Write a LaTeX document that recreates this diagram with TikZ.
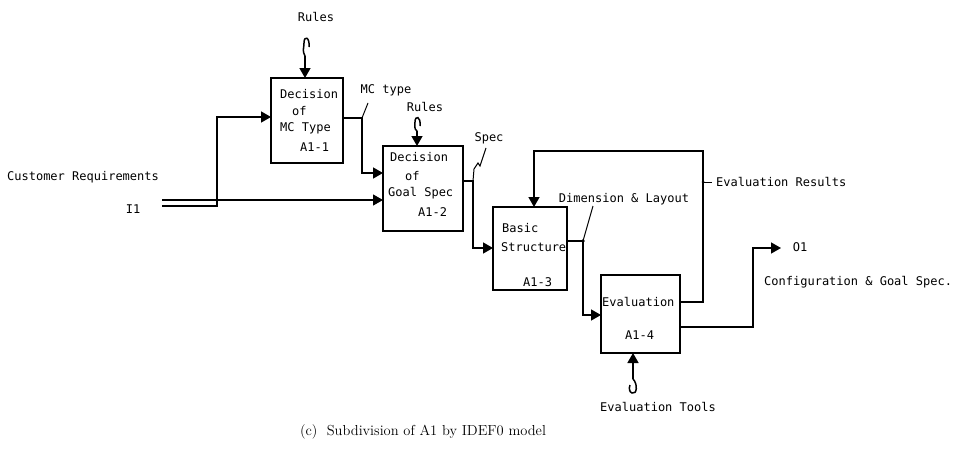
\documentclass[tikz,border=0pt]{standalone}
\usepackage{fontspec}
\newfontfamily\monof{DejaVu Sans Mono}
\usetikzlibrary{arrows.meta,calc}
\begin{document}
\begin{tikzpicture}[x=1pt,y=-1pt,
  box/.style={draw,line width=1.5pt,inner sep=0pt,outer sep=0pt},
  lbl/.style={font=\monof\fontsize{12}{14}\selectfont,inner sep=0pt},
  flow/.style={line width=1.5pt},
  arr/.style={flow,-{Triangle[length=10pt,width=11pt]}},
  captext/.style={font=\fontsize{14.5}{17}\selectfont,inner sep=0pt}]
\useasboundingbox (0,0) rectangle (955,455);

% boxes
\node[box,minimum width=72pt,minimum height=85pt] (b1) at (307,120.5) {};
\node[box,minimum width=80pt,minimum height=85pt] (b2) at (423,188.5) {};
\node[box,minimum width=74pt,minimum height=83pt] (b3) at (530,248.5) {};
\node[box,minimum width=79pt,minimum height=78pt] (b4) at (640.5,314) {};

% box texts
\node[lbl,anchor=west] (t1a) at (280,94) {Decision};
\node[lbl,anchor=west] (t1b) at (292,111) {of};
\node[lbl,anchor=west] (t1c) at (280,128) {MC Type};
\node[lbl,anchor=west] (t1d) at (300,147) {A1-1};

\node[lbl,anchor=west] (t2a) at (390,157) {Decision};
\node[lbl,anchor=west] (t2b) at (405,176) {of};
\node[lbl,anchor=west] (t2c) at (388,193) {Goal Spec};
\node[lbl,anchor=west] (t2d) at (418,212) {A1-2};

\node[lbl,anchor=west] (t3a) at (502,228) {Basic};
\node[lbl,anchor=west] (t3b) at (501,247) {Structure};
\node[lbl,anchor=west] (t3c) at (523,282) {A1-3};

\node[lbl,anchor=west] (t4a) at (602,302) {Evaluation};
\node[lbl,anchor=west] (t4b) at (625,335) {A1-4};

% outside labels
\node[lbl] (lcr) at (83,177) {Customer Requirements};
\node[lbl] (li1) at (133,209) {I1};
\node[lbl] (lr1) at (316,17) {Rules};
\node[lbl] (lr2) at (425,107) {Rules};
\node[lbl] (lmc) at (386,90) {MC type};
\node[lbl] (lsp) at (489,138) {Spec};
\node[lbl] (ldl) at (624,199) {Dimension \& Layout};
\node[lbl,anchor=west] (ler) at (716,182) {Evaluation Results};
\node[lbl] (lo1) at (800,247) {O1};
\node[lbl,anchor=west] (lcg) at (764,282) {Configuration \& Goal Spec.};
\node[lbl] (let) at (658,407) {Evaluation Tools};
\node[captext] (capt) at (423,432) {(c)\ \ Subdivision of A1 by IDEF0 model};

% inputs
\coordinate (i1a) at (162,200);
\coordinate (i1b) at (162,206);
\coordinate (j1) at (217,117);
\draw[arr,line width=1.1pt] (i1a) -- (b2.west |- i1a);
\draw[arr] (i1b) -| (j1) -- (b1.west |- j1);

% A1-1 -> A1-2
\coordinate (m1) at (362,118);
\coordinate (m2) at (362,173);
\draw[arr] (b1.east |- m1) -- (m1) -- (m2) -- (b2.west |- m2);
\draw[flow,line width=1pt] (m1) -- (368,103);

% A1-2 -> A1-3
\coordinate (s1) at (473,181);
\coordinate (s2) at (473,248);
\draw[arr] (b2.east |- s1) -- (s1) -- (s2) -- (b3.west |- s2);
\draw[flow,line width=1pt] (s1) -- (474,169) -- (478,163) -- (480,166) -- (483,157) -- (486,148);

% A1-3 -> A1-4
\coordinate (d1) at (583,241);
\coordinate (d2) at (583,315);
\draw[arr] (b3.east |- d1) -- (d1) -- (d2) -- (b4.west |- d2);
\draw[flow,line width=1pt] (d1) -- (593,206);
\fill (d1) circle (1.8pt);

% feedback
\coordinate (e1) at (703,302);
\coordinate (e2) at (703,151);
\coordinate (e3) at (534,151);
\draw[arr] (b4.east |- e1) -- (e1) -- (e2) -- (e3) -- (e3 |- b3.north);
\coordinate (er) at (703,182);
\draw[flow,line width=1pt] (er) -- (712,182);
\fill (er) circle (1.5pt);

% output
\coordinate (q1) at (753,327);
\coordinate (q2) at (753,248);
\coordinate (q3) at (781,248);
\draw[arr] (b4.east |- q1) -- (q1) -- (q2) -- (q3);

% controls
\coordinate (r1) at (305,56);
\draw[arr] (r1) -- (r1 |- b1.north);
\draw[flow] (309,47) .. controls (310,37) and (304,35) .. (304,43) .. controls (304,48) and (302,51) .. (r1);

\coordinate (r2) at (417,131);
\draw[arr] (r2) -- (r2 |- b2.north);
\draw[flow] (420,126) .. controls (421,116) and (415,115) .. (415,122) .. controls (415,126) and (414,129) .. (r2);

% mechanism
\coordinate (k1) at (633,379);
\draw[arr] (k1) -- (k1 |- b4.south);
\draw[flow] (k1) .. controls (638,384) and (637,395) .. (632,393) .. controls (629,392) and (629,388) .. (630,385);
\end{tikzpicture}
\end{document}
